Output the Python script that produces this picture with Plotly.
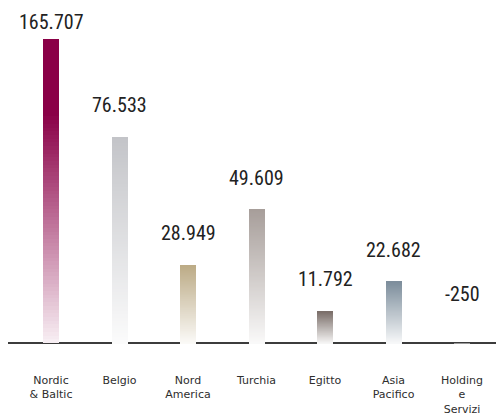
import plotly.graph_objects as go

# ---- data ----
categories = ["Nordic<br>& Baltic", "Belgio", "Nord<br>America", "Turchia",
              "Egitto", "Asia<br>Pacifico", "Holding<br>e<br>Servizi"]
values = [165.707, 76.533, 28.949, 49.609, 11.792, 22.682, -0.250]
value_labels = ["165.707", "76.533", "28.949", "49.609", "11.792", "22.682", "-250"]

# ---- styles ----
bar_colors = ["#8a0047", "#c3c4c8", "#bcab86", "#a79e9a", "#7a6e69", "#7d8e9c", "#999999"]
Y_TOP = 113.0
Y_BOTTOM = -2.6
FADE_SPAN = 85.0
N_SEG = 120
BAR_W = 0.234


def hex_to_rgb(h):
    h = h.lstrip("#")
    return tuple(int(h[i:i + 2], 16) for i in (0, 2, 4))


def mix(c, f):
    r, g, b = hex_to_rgb(c)
    k = 0.06 + 0.94 * f
    return "rgb(%d,%d,%d)" % (round(255 + (r - 255) * k),
                              round(255 + (g - 255) * k),
                              round(255 + (b - 255) * k))


fig = go.Figure()
for i in range(N_SEG):
    seg_y = []
    seg_c = []
    for v, c in zip(values, bar_colors):
        seg_y.append(v / N_SEG)
        t = abs(v) * (i + 0.5) / N_SEG
        span = min(abs(v), FADE_SPAN) if v != 0 else 1
        f = min(1.0, t / span)
        seg_c.append(mix(c, f))
    fig.add_trace(go.Bar(
        x=categories, y=seg_y, width=BAR_W,
        marker=dict(color=seg_c, line=dict(width=0)),
        showlegend=False, hoverinfo="skip",
    ))

for cat, v, lab in zip(categories, values, value_labels):
    if v > Y_TOP:
        ya, ys = Y_TOP, 3
    elif v < 0:
        ya, ys = 0, 35
    else:
        ya, ys = v, 18
    fig.add_annotation(
        x=cat, y=ya, text=lab, showarrow=False, yanchor="bottom", yshift=ys,
        font=dict(family="Roboto Condensed, Roboto", size=20, color="#222222"),
    )

# the page body adds an 8px margin, so the figure is sized to the visible area
fig.update_layout(
    width=496, height=408,
    margin=dict(l=0, r=0, t=31, b=66, autoexpand=False),
    paper_bgcolor="white", plot_bgcolor="white",
    barmode="stack", bargap=0,
    xaxis=dict(type="category", range=[-0.628, 6.613], showgrid=False, zeroline=False,
               showline=False, ticks="", ticklabelstandoff=22, automargin=False,
               tickfont=dict(family="DejaVu Sans", size=11, color="#2e2e2e")),
    yaxis=dict(range=[Y_BOTTOM, Y_TOP], showgrid=False, showticklabels=False, automargin=False,
               zeroline=True, zerolinecolor="#3c3c3c", zerolinewidth=2, showline=False),
)

fig.write_html("out.html")
